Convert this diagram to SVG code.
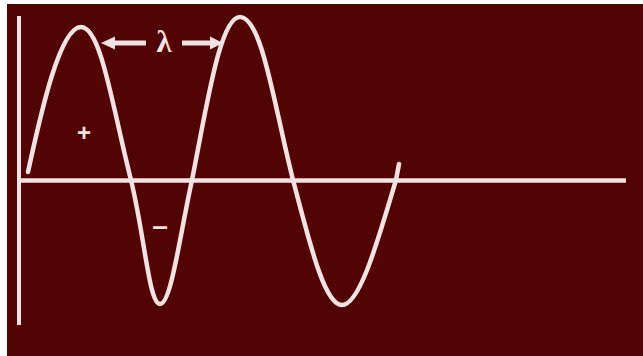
<svg xmlns="http://www.w3.org/2000/svg" width="643" height="356" viewBox="0 0 643 356">
  <style>
    .ln { stroke: #f2e2e2; fill: none; }
    .fill { fill: #f2e2e2; }
    .lbl { fill: #f2e2e2; font-family: "Liberation Sans", Arial, sans-serif; }
  </style>
  <rect x="0" y="0" width="643" height="356" fill="#ffffff"/>
  <rect x="7" y="4" width="636" height="352" fill="#520404"/>
  <g id="axes">
    <line class="ln" x1="19" y1="16" x2="19" y2="325" stroke-width="4"/>
    <line class="ln" x1="17" y1="180.5" x2="626" y2="180.5" stroke-width="4.5"/>
  </g>
  <g id="wave">
    <path class="ln" stroke-width="4.5" stroke-linecap="round" d="M28,172 C41,112 60,27 81,27 C101,27 112,105 131,180 C145,238 149,304 160,304 C171,304 179,240 192,180 C207,105 220,17 240,17 C262,17 274,105 293,180 C309,240 324,305 342,305 C360,305 378,240 396,180 L399,164"/>
  </g>
  <g id="wavelength">
    <polygon class="fill" points="101,43 115,36.5 115,49.5"/>
    <rect class="fill" x="114" y="40.5" width="32" height="5"/>
    <rect class="fill" x="182" y="40.5" width="29" height="5"/>
    <polygon class="fill" points="223,43 210,36.5 210,49.5"/>
    <text x="164" y="52" text-anchor="middle" font-family="'Liberation Serif', 'DejaVu Serif', serif" font-size="31" font-weight="bold" fill="#f2e2e2">λ</text>
  </g>
  <g id="signs">
    <text class="lbl" x="84" y="141" text-anchor="middle" font-size="24" font-weight="bold">+</text>
    <text class="lbl" x="160" y="235" text-anchor="middle" font-size="28" font-weight="bold">–</text>
  </g>
</svg>
